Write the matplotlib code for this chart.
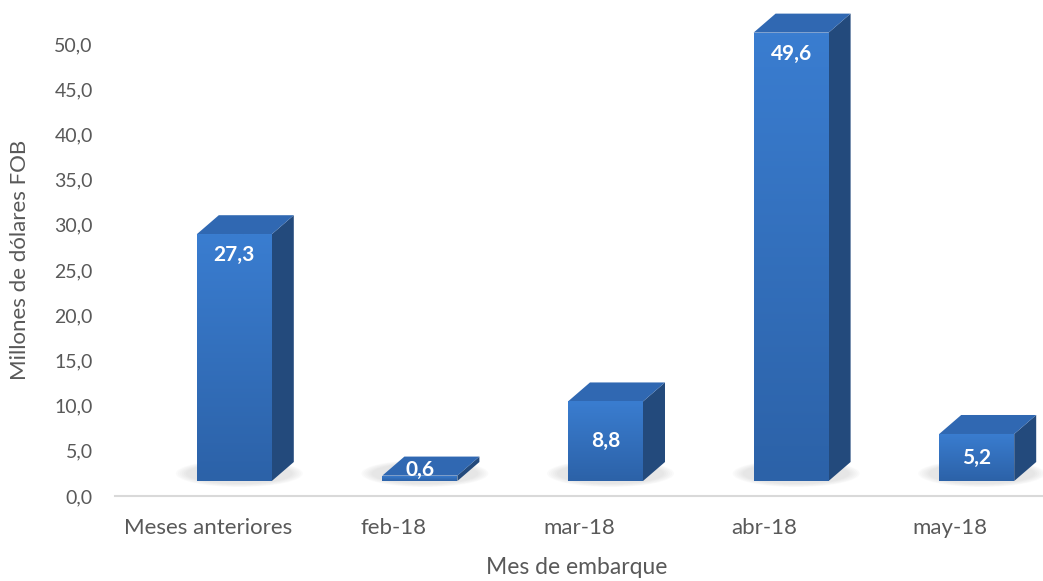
import numpy as np
import matplotlib
matplotlib.use("Agg")
import matplotlib.pyplot as plt
from matplotlib.patches import Polygon, Rectangle, Ellipse
from matplotlib.colors import LinearSegmentedColormap

categories = ["Meses anteriores", "feb-18", "mar-18", "abr-18", "may-18"]
values = [27.3, 0.6, 8.8, 49.6, 5.2]
yticks = [0, 5, 10, 15, 20, 25, 30, 35, 40, 45, 50]
ylabel = "Millones de dólares FOB"
xlabel = "Mes de embarque"

plt.rcParams['font.family'] = ['Lato', 'DejaVu Sans']

W, H = 1043, 581
fig = plt.figure(figsize=(W / 100, H / 100), dpi=100)
AX_L, AX_R, AX_B, AX_T = 115, 1043, 496, 20
ax = fig.add_axes([AX_L / W, (H - AX_B) / H, (AX_R - AX_L) / W, (AX_B - AX_T) / H])
PX_Y = 9.04                      # pixels per data unit (y)
ymax = (AX_B - AX_T) / PX_Y
ax.set_xlim(-0.5, len(categories) - 0.5)
ax.set_ylim(0, ymax)
PX_X = (AX_R - AX_L) / len(categories)

def ux(px):
    return px / PX_X

def uy(px):
    return px / PX_Y

grad_cmap = LinearSegmentedColormap.from_list("front", ["#2c62a8", "#3a7dd0"])
side_color = "#234a7c"
top_color = "#3068b2"
grey = "#595959"

ddx, ddy = ux(22), uy(19)
base = uy(15)
for i, v in enumerate(values):
    x0 = i - ux(11)
    x1 = x0 + ux(75)
    b = base
    t = base + v
    # soft floor shadow
    cx = (x0 + x1 + ddx) / 2
    cy = b + ddy / 2
    for k in range(6):
        e = Ellipse((cx - ux(6), cy - uy(2)), (x1 - x0 + ddx) + ux(30 - 4 * k),
                    ddy + uy(8 - 1.2 * k), facecolor="#8c8c8c", alpha=0.035,
                    edgecolor="none", zorder=1, clip_on=False)
        ax.add_patch(e)
    # side face
    side = Polygon([(x1, b), (x1 + ddx, b + ddy), (x1 + ddx, t + ddy), (x1, t)],
                   closed=True, facecolor=side_color, edgecolor="none", zorder=3, clip_on=False)
    ax.add_patch(side)
    # top face
    top = Polygon([(x0, t), (x0 + ddx, t + ddy), (x1 + ddx, t + ddy), (x1, t)],
                  closed=True, facecolor=top_color, edgecolor="none", zorder=3, clip_on=False)
    ax.add_patch(top)
    # front face with gradient
    rect = Rectangle((x0, b), x1 - x0, t - b, facecolor="none", edgecolor="none", zorder=4)
    ax.add_patch(rect)
    grad = np.linspace(0, 1, 100).reshape(-1, 1)
    im = ax.imshow(grad, cmap=grad_cmap, origin="lower", extent=[x0, x1, b, t],
                   aspect="auto", zorder=4, interpolation="bilinear")
    im.set_clip_path(rect)
    # data label
    h = t - b
    off = h / 2 if h < uy(100) else uy(21)
    ly = max(t - off, uy(26))
    ax.text((x0 + x1) / 2, ly, f"{v:.1f}".replace(".", ","), color="white",
            fontsize=15, fontweight="bold", ha="center", va="center", zorder=6)

ax.set_xlim(-0.5, len(categories) - 0.5)
ax.set_ylim(0, ymax)

for s in ["top", "right", "left"]:
    ax.spines[s].set_visible(False)
ax.spines["bottom"].set_color("#d9d9d9")
ax.spines["bottom"].set_linewidth(1.5)
ax.spines["bottom"].set_zorder(0)

ax.set_yticks(yticks)
ax.set_yticklabels([f"{y:.1f}".replace(".", ",") for y in yticks])
ax.set_xticks(range(len(categories)))
ax.set_xticklabels(categories)
ax.tick_params(axis="y", length=0, pad=16, labelsize=14, labelcolor=grey)
ax.tick_params(axis="x", length=0, pad=16, labelsize=16, labelcolor=grey)

fig.text(20 / W, 1 - 260 / H, ylabel, rotation=90, ha="center", va="center",
         fontsize=16, color=grey)
fig.text(577 / W, 1 - 568 / H, xlabel, ha="center", va="center",
         fontsize=16.5, color=grey)

fig.savefig("out.png", dpi=100)
